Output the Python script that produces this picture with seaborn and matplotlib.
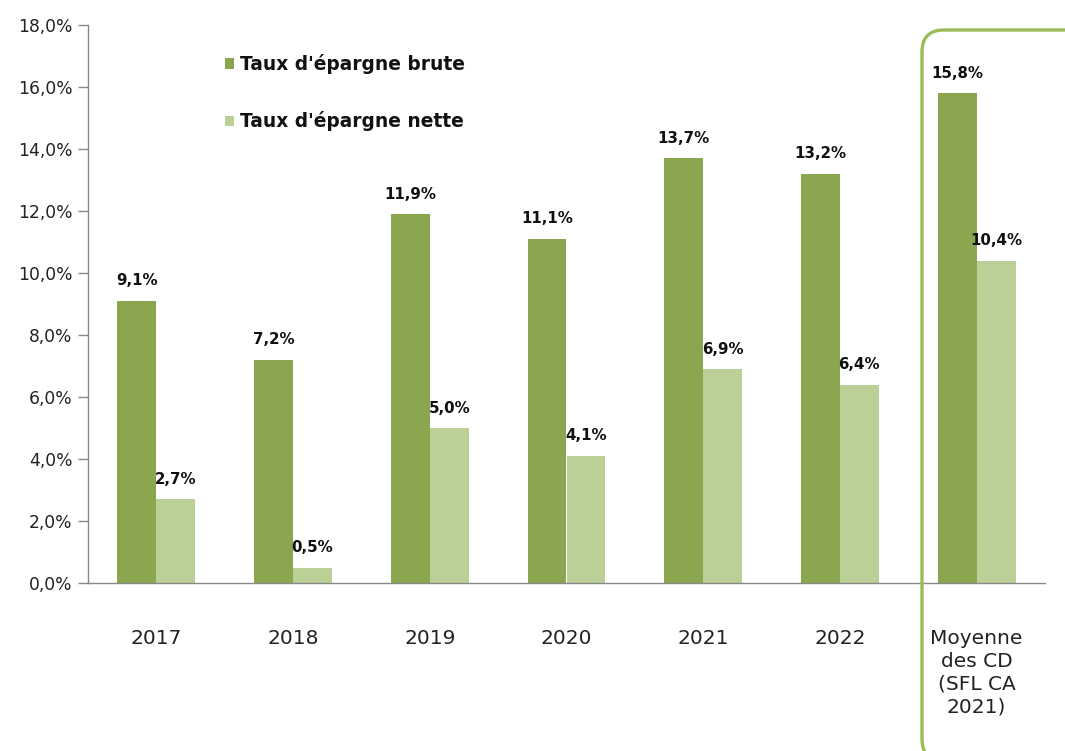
import matplotlib
matplotlib.use("Agg")
import matplotlib.pyplot as plt
import seaborn as sns
import pandas as pd
import numpy as np
from matplotlib.patches import FancyBboxPatch
from matplotlib.transforms import IdentityTransform
from matplotlib.ticker import FixedLocator

categories = ["2017", "2018", "2019", "2020", "2021", "2022", "Moyenne\ndes CD\n(SFL CA\n2021)"]
brute = [9.1, 7.2, 11.9, 11.1, 13.7, 13.2, 15.8]
nette = [2.7, 0.5, 5.0, 4.1, 6.9, 6.4, 10.4]
series = ["Taux d'épargne brute", "Taux d'épargne nette"]
yticks = [0, 2, 4, 6, 8, 10, 12, 14, 16, 18]

df = pd.DataFrame({
    "cat": categories * 2,
    "val": brute + nette,
    "serie": [series[0]] * len(categories) + [series[1]] * len(categories),
})

sns.set_style("white")
plt.rcParams["font.family"] = ["DejaVu Sans"]

fig = plt.figure(figsize=(10.65, 7.51), dpi=100)
ax = fig.add_axes([88 / 1065, 1 - 583 / 751, (1045 - 88) / 1065, (583 - 25) / 751])

colors = ["#8AA64F", "#BBD097"]
sns.barplot(data=df, x="cat", y="val", hue="serie", palette=colors, width=0.57,
            saturation=1, ax=ax, legend=True, linewidth=0)

ax.set_xlim(-0.5, len(categories) - 0.5)
ax.set_ylim(0, 18)
ax.set_yticks(yticks)
ax.set_yticklabels([f"{v},0%" for v in yticks], fontsize=12.3, color="#222222")
ax.set_xlabel("")
ax.set_ylabel("")
ax.tick_params(axis="x", length=0, pad=33, labelsize=14.5, labelcolor="#222222")
ax.xaxis.set_minor_locator(FixedLocator(np.arange(-0.5, len(categories), 1.0)))
ax.tick_params(axis="x", which="minor", length=7, color="#888888", width=1, direction="out")
ax.tick_params(axis="y", length=7, color="#888888", width=1, direction="out", left=True, pad=4)
for lab in ax.get_xticklabels():
    lab.set_linespacing(1.25)

for s in ["top", "right"]:
    ax.spines[s].set_visible(False)
for s in ["left", "bottom"]:
    ax.spines[s].set_color("#888888")
    ax.spines[s].set_linewidth(1)

for cont in ax.containers:
    ax.bar_label(cont, labels=[f"{v:.1f}%".replace(".", ",") for v in cont.datavalues],
                 padding=9, fontsize=10.8, fontweight="bold", color="#111111")

leg = ax.legend(loc="upper left", bbox_to_anchor=(0.135, 0.961), frameon=False,
                prop={"weight": "bold", "size": 13.4}, handlelength=0.5, handleheight=0.5,
                handletextpad=0.35, labelspacing=2.0, borderaxespad=0)
for t in leg.get_texts():
    t.set_color("#111111")

box = FancyBboxPatch((922, -10), 200, 751 - 30 + 10,
                     boxstyle="round,pad=0,rounding_size=22",
                     transform=IdentityTransform(), fill=False,
                     edgecolor="#9BBB59", linewidth=2.4, clip_on=False)
fig.patches.append(box)

fig.savefig("out.png", dpi=100)
